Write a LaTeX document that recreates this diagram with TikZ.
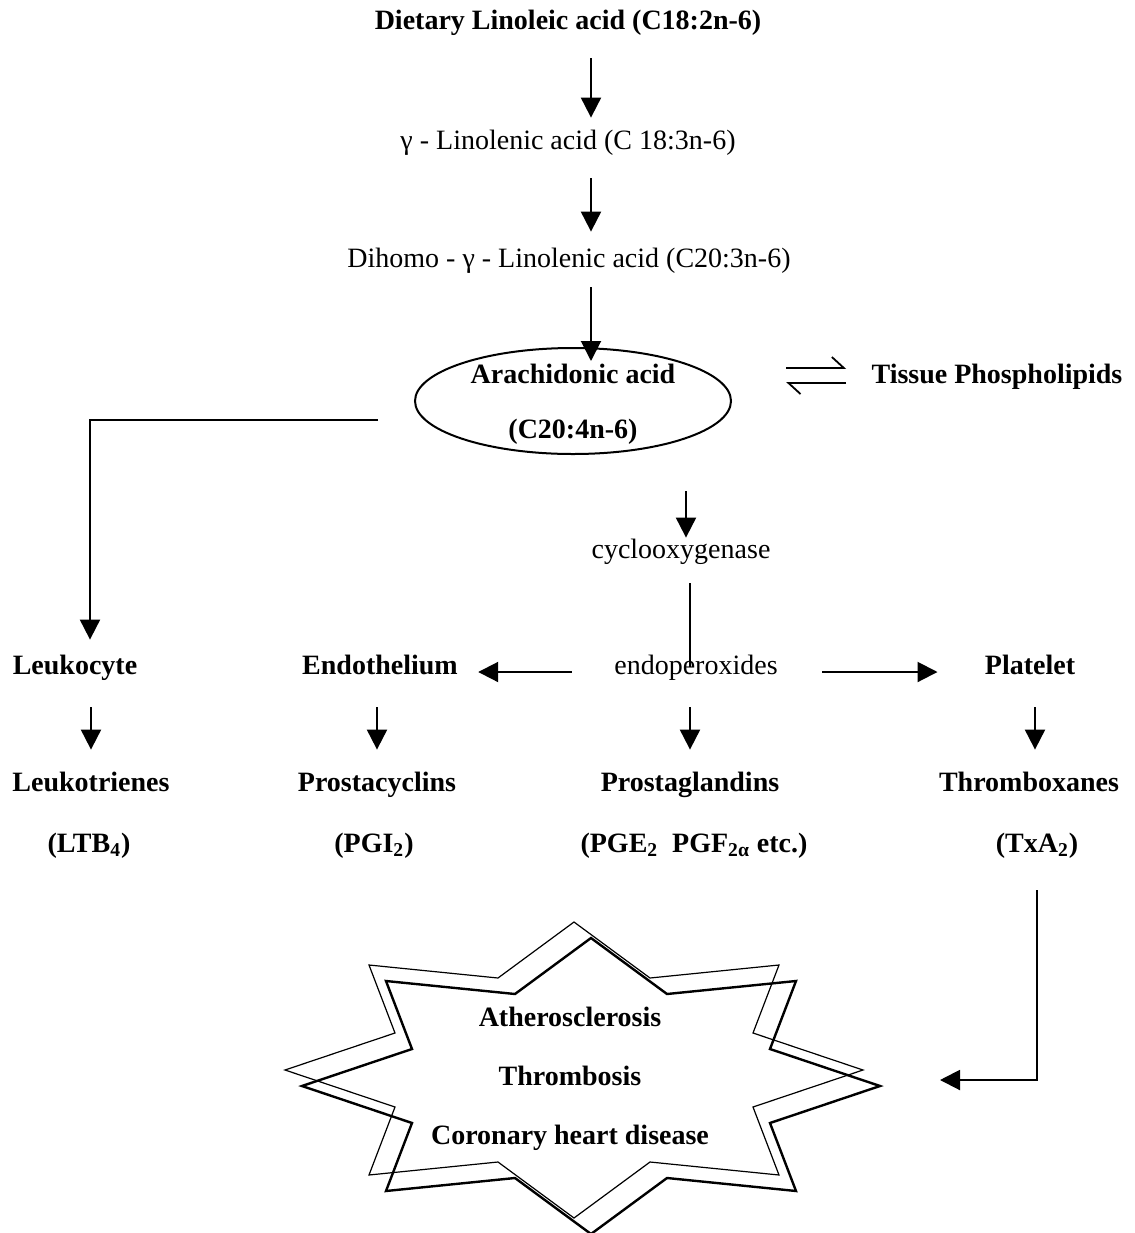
\documentclass[tikz,border=0pt]{standalone}
\usepackage{fontspec}
\setmainfont{Liberation Serif}
\usetikzlibrary{arrows.meta,shapes.geometric}

\tikzset{
  lbl/.style={inner sep=0pt,text height=10pt,text depth=3pt},
  blbl/.style={lbl,font=\fontsize{14}{16}\selectfont\bfseries},
  flow/.style={line width=1pt,-{Triangle[length=10pt,width=10pt]}},
  drop/.style={flow,shorten <=13.5pt,shorten >=10.5pt},
  harp/.style={line width=0.9pt,-{Straight Barb[harpoon,length=6pt,width=11pt]}},
}

\begin{document}
\begin{tikzpicture}[x=0.5pt,y=-0.5pt,font=\fontsize{14}{16}\selectfont]
 \useasboundingbox (0,0) rectangle (1135,1233);
 \coordinate (spine) at (591,0);
 \coordinate (coxcol) at (686,0);
 % precursor chain
 \node[blbl] (diet) at (568,22) {Dietary Linoleic acid (C18:2n-6)};
 \node[lbl] (gla) at (568,142) {γ - Linolenic acid (C 18:3n-6)};
 \node[lbl] (dgla) at (569,260) {Dihomo - γ - Linolenic acid (C20:3n-6)};
 \node[draw,ellipse,line width=1pt,minimum width=158pt,minimum height=53pt] (aa) at (573,401) {};
 \node[blbl] (aatop) at (573,376) {Arachidonic acid};
 \node[blbl] (aabot) at (573,431) {(C20:4n-6)};
 \node[blbl] (tp) at (997,376) {Tissue Phospholipids};
 \draw[flow,shorten <=11.5pt,shorten >=5.5pt] (diet.south -| spine) -- (gla.north -| spine);
 \draw[flow,shorten <=11.5pt,shorten >=7.5pt] (gla.south -| spine) -- (dgla.north -| spine);
 \draw[flow,shorten <=7pt,shorten >=-7pt] (dgla.south -| spine) -- (aa.north -| spine);
 \draw[harp] ([shift={(-42.5pt,4pt)}]tp.west) -- ([shift={(-12.5pt,4pt)}]tp.west);
 \draw[harp] ([shift={(-12.5pt,-3.5pt)}]tp.west) -- ([shift={(-42.5pt,-3.5pt)}]tp.west);

 % middle row
 \node[lbl] (cox) at (681,551) {cyclooxygenase};
 \node[lbl] (endo) at (696,667) {endoperoxides};
 \node[blbl] (leuk) at (75,667) {Leukocyte};
 \node[blbl] (endt) at (380,667) {Endothelium};
 \node[blbl] (plat) at (1030,667) {Platelet};
 \draw[flow,shorten <=18pt] (aa.south -| coxcol) -- (cox.north -| coxcol);
 \draw[line width=1pt,shorten <=9.5pt] ([xshift=-3pt]endo.center |- cox.south) -- ([xshift=-3pt]endo.center);
 \draw[flow,shorten <=21pt,shorten >=10pt] ([yshift=-2.5pt]endo.west) -- ([yshift=-2.5pt]endt.east);
 \draw[flow,shorten <=22pt,shorten >=23.5pt] ([yshift=-2.5pt]endo.east) -- ([yshift=-2.5pt]plat.west);
 \draw[flow,shorten >=7pt] ([xshift=-18pt,yshift=-9.5pt]aa.west) -| ([xshift=7.5pt]leuk.north);

 % products
 \node[blbl] (lt) at (91,784) {Leukotrienes};
 \node[blbl] (pc) at (377,784) {Prostacyclins};
 \node[blbl] (pg) at (690,784) {Prostaglandins};
 \node[blbl] (tx) at (1029,784) {Thromboxanes};
 \node[blbl] (ltb) at (89,845) {(LTB\textsubscript{4})};
 \node[blbl] (pgi) at (374,845) {(PGI\textsubscript{2})};
 \node[blbl] (pge) at (694,845) {(PGE\textsubscript{2}\ \ PGF\textsubscript{2α} etc.)};
 \node[blbl] (txa) at (1037,845) {(TxA\textsubscript{2})};
 \draw[drop] (lt |- leuk.south) -- (lt.north);
 \draw[drop] (pc |- endt.south) -- (pc.north);
 \draw[drop] (pg |- endo.south) -- (pg.north);
 \draw[drop] ([xshift=3pt]tx.north |- plat.south) -- ([xshift=3pt]tx.north);

 % disease star
 \foreach \sx/\sy/\lw in {574/1070/0.6pt,591/1086/1.2pt}
  \draw[line width=\lw,shift={(\sx,\sy)}] (0,-148) -- (76,-92) -- (205,-105) -- (179,-37)
   -- (289,0) -- (179,37) -- (205,105) -- (76,92) -- (0,148) -- (-76,92) -- (-205,105)
   -- (-179,37) -- (-289,0) -- (-179,-37) -- (-205,-105) -- (-76,-92) -- cycle;
 \node[font=\fontsize{14}{16}\selectfont\bfseries,align=center,inner sep=0pt] (cvd) at (570,1079)
  {Atherosclerosis\\[13.5pt]Thrombosis\\[13.5pt]Coronary heart disease};
 \coordinate (cvdin) at (940,1080);
 \draw[flow,shorten <=16pt] (txa.south) |- (cvdin);
\end{tikzpicture}
\end{document}
